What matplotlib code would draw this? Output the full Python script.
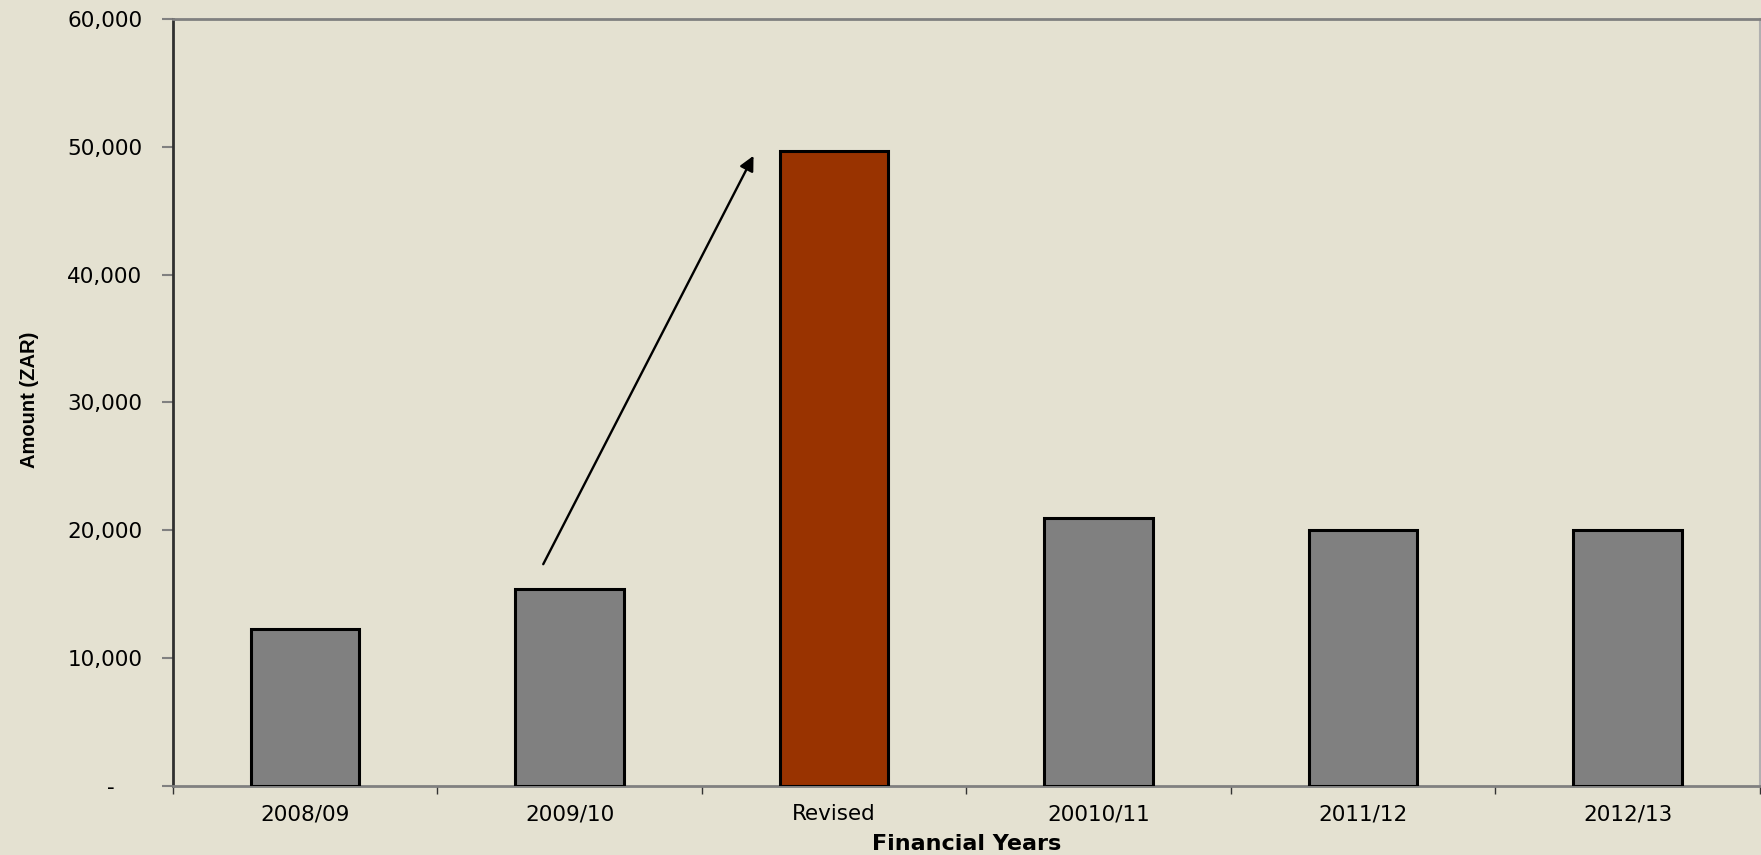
import matplotlib
matplotlib.use('Agg')
import matplotlib.pyplot as plt
from matplotlib.ticker import FixedLocator, FuncFormatter

years = ['2008/09', '2009/10', 'Revised', '20010/11', '2011/12', '2012/13']
amounts = [12300, 15400, 49700, 21000, 20000, 20000]
barColors = ['#808080', '#808080', '#993300', '#808080', '#808080', '#808080']

bg = '#E4E1D1'

def yfmt(v, pos):
    if v == 0:
        return '-    '
    return '{:,.0f}'.format(v)


fig = plt.figure(figsize=(17.61, 8.55), dpi=100, facecolor=bg)
ax = fig.add_axes([0.0982, 0.0807, 0.9012, 0.8971], facecolor=bg)

xs = list(range(len(years)))
ax.bar(xs, amounts, width=0.41, color=barColors, edgecolor='black', linewidth=2.2, zorder=3)

# arrow from the 2009/10 bar up to the revised bar
ax.annotate('', xy=(xs[2] - 0.305, amounts[2] - 400), xytext=(xs[1] - 0.1, amounts[1] + 1950),
            arrowprops=dict(arrowstyle='-|>', color='black', lw=1.7, mutation_scale=22,
                            shrinkA=0, shrinkB=0), zorder=4)

ax.set_xlim(-0.5, len(years) - 0.5)
ax.set_ylim(0, 60000)
ax.set_yticks(range(0, 60001, 10000))
ax.yaxis.set_major_formatter(FuncFormatter(yfmt))
ax.set_xticks(xs)
ax.set_xticklabels(years)
ax.xaxis.set_minor_locator(FixedLocator([i - 0.5 for i in range(len(years) + 1)]))

ax.tick_params(axis='x', which='major', length=0, pad=13, labelsize=15.5, labelcolor='black')
ax.tick_params(axis='x', which='minor', length=6, width=1.0, color='#333333', direction='out')
ax.tick_params(axis='y', length=8, width=1.5, color='#808080', pad=14, labelsize=15.5)

for s in ['top', 'bottom']:
    ax.spines[s].set_color('#808080')
    ax.spines[s].set_linewidth(2.0)
ax.spines['right'].set_color('#B0B0B0')
ax.spines['right'].set_linewidth(1.5)
ax.spines['left'].set_color('#303030')
ax.spines['left'].set_linewidth(2.0)

fig.text(0.549, 0.0125, 'Financial Years', ha='center', va='center',
         fontsize=16, fontweight='bold')
fig.text(0.017, 0.532, 'Amount (ZAR)', ha='center', va='center', rotation=90,
         fontsize=14.5, fontweight='bold', family=['Liberation Sans', 'DejaVu Sans'])

fig.savefig('out.png', dpi=100, facecolor=bg)
